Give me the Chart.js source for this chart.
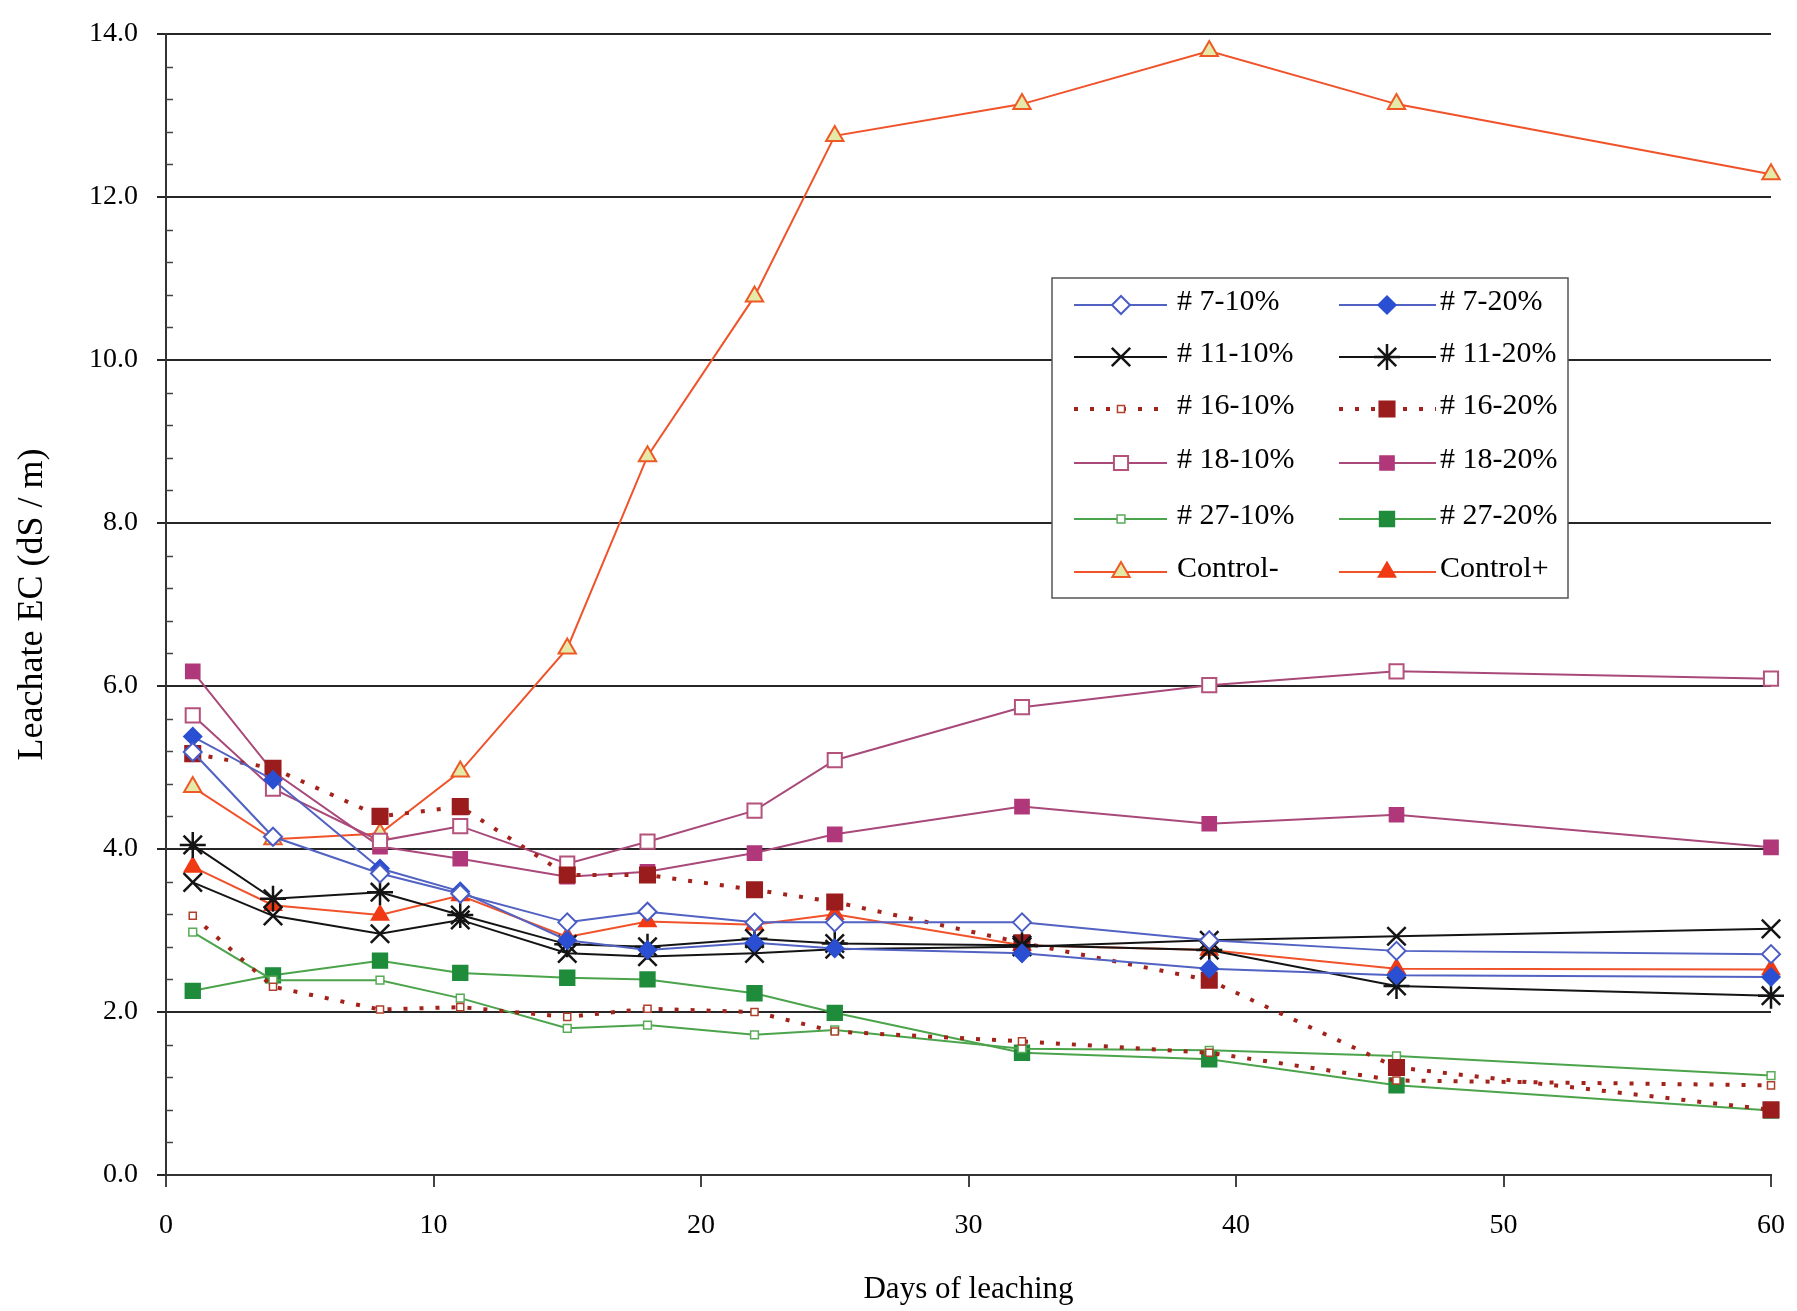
<!DOCTYPE html>
<html>
<head>
<meta charset="utf-8">
<script src="https://cdn.jsdelivr.net/npm/chart.js@4/dist/chart.umd.min.js"></script>
<style>
  html, body { margin: 0; padding: 0; background: #fff; }
</style>
</head>
<body>
<canvas id="ecChart" width="1797" height="1311"></canvas>
<script>
// days of leaching (x values)
const days = [ 1, 4, 8, 11, 15, 18, 22, 25, 32, 39, 46, 60 ];

// leachate EC, dS/m
const s7_10 = [ 5.19, 4.15, 3.70, 3.45, 3.10, 3.23, 3.10, 3.10, 3.10, 2.88, 2.75, 2.71 ];
const s7_20 = [ 5.38, 4.85, 3.76, 3.48, 2.88, 2.76, 2.85, 2.78, 2.72, 2.53, 2.45, 2.43 ];
const s11_10 = [ 3.59, 3.18, 2.96, 3.13, 2.72, 2.68, 2.72, 2.77, 2.80, 2.88, 2.93, 3.02 ];
const s11_20 = [ 4.05, 3.39, 3.47, 3.19, 2.83, 2.80, 2.90, 2.84, 2.82, 2.76, 2.32, 2.20 ];
const s16_10 = [ 3.18, 2.31, 2.03, 2.06, 1.94, 2.04, 2.00, 1.76, 1.64, 1.50, 1.16, 1.10 ];
const s16_20 = [ 5.17, 4.99, 4.40, 4.52, 3.68, 3.68, 3.50, 3.35, 2.85, 2.39, 1.32, 0.80 ];
const s18_10 = [ 5.64, 4.74, 4.10, 4.28, 3.82, 4.09, 4.47, 5.09, 5.74, 6.01, 6.18, 6.09 ];
const s18_20 = [ 6.18, 4.95, 4.03, 3.88, 3.66, 3.72, 3.95, 4.18, 4.52, 4.31, 4.42, 4.02 ];
const s27_10 = [ 2.98, 2.39, 2.39, 2.17, 1.80, 1.84, 1.72, 1.78, 1.55, 1.53, 1.46, 1.22 ];
const s27_20 = [ 2.26, 2.45, 2.63, 2.48, 2.42, 2.40, 2.23, 1.99, 1.50, 1.42, 1.10, 0.79 ];
const ctrlMinus = [ 4.76, 4.12, 4.19, 4.95, 6.46, 8.82, 10.78, 12.75, 13.14, 13.79, 13.14, 12.28 ];
const ctrlPlus = [ 3.78, 3.31, 3.19, 3.43, 2.92, 3.11, 3.07, 3.20, 2.82, 2.76, 2.53, 2.52 ];

const yTicks = [ 0, 2, 4, 6, 8, 10, 12, 14 ];
const xTicks = [ 0, 10, 20, 30, 40, 50, 60 ];

const SERIF = "'Liberation Serif', 'DejaVu Serif', serif";

function pts ( vals ) {
  return vals.map( ( v, i ) => ( { x: days[ i ], y: v } ) );
}

function series ( label, vals, line, mark ) {
  return {
    label,
    data: pts( vals ),
    borderColor: line.color,
    borderWidth: line.width || 2,
    borderDash: line.dash || [],
    borderCapStyle: "butt",
    tension: 0,
    fill: false,
    clip: false,
    pointStyle: mark.style,
    pointRadius: mark.r,
    pointHoverRadius: mark.r,
    pointBackgroundColor: mark.fill,
    pointBorderColor: mark.stroke,
    pointBorderWidth: mark.bw || 1.5,
  };
}

const BLUE = "#5262c2", BLACK = "#141414", DRED = "#a3231b", MAUVE = "#a8497a", GREEN = "#4ba44b", ORANGE = "#f0522a";
const DOTS = [ 4, 12 ];

const datasets = [
  series( "# 7-10%", s7_10, { color: BLUE }, { style: "rectRot", r: 9, fill: "#fff", stroke: "#4a5cc4", bw: 2 } ),
  series( "# 7-20%", s7_20, { color: BLUE }, { style: "rectRot", r: 9, fill: "#2b4fd2", stroke: "#2b4fd2" } ),
  series( "# 11-10%", s11_10, { color: BLACK }, { style: "crossRot", r: 13, fill: BLACK, stroke: BLACK, bw: 2.5 } ),
  series( "# 11-20%", s11_20, { color: BLACK }, { style: "star", r: 13, fill: BLACK, stroke: BLACK, bw: 2.5 } ),
  series( "# 16-10%", s16_10, { color: DRED, width: 4, dash: DOTS }, { style: "rect", r: 5, fill: "#fff", stroke: "#b0402c", bw: 1.5 } ),
  series( "# 16-20%", s16_20, { color: DRED, width: 4, dash: DOTS }, { style: "rect", r: 11, fill: "#9b1c1c", stroke: "#9b1c1c" } ),
  series( "# 18-10%", s18_10, { color: MAUVE }, { style: "rect", r: 10, fill: "#fff", stroke: "#b4527c", bw: 2 } ),
  series( "# 18-20%", s18_20, { color: MAUVE }, { style: "rect", r: 10, fill: "#b0387a", stroke: "#b0387a" } ),
  series( "# 27-10%", s27_10, { color: GREEN }, { style: "rect", r: 5.5, fill: "#fff", stroke: "#5aaa5a", bw: 1.5 } ),
  series( "# 27-20%", s27_20, { color: GREEN }, { style: "rect", r: 10.5, fill: "#1f8c3b", stroke: "#1f8c3b" } ),
  series( "Control-", ctrlMinus, { color: ORANGE }, { style: "triangle", r: 10, fill: "#e6eaa8", stroke: "#ee5a26", bw: 2 } ),
  series( "Control+", ctrlPlus, { color: ORANGE }, { style: "triangle", r: 10, fill: "#f03a14", stroke: "#f03a14" } ),
];

// legend drawn inside the plot, two columns
const legendRowY = [ 305, 357, 409, 463, 519, 572 ];
const legendCols = [
  { x0: 1074, x1: 1167, xm: 1121, xt: 1177 },
  { x0: 1339, x1: 1436, xm: 1387, xt: 1440 },
];

const boxLegend = {
  id: "boxLegend",
  afterDatasetsDraw ( chart ) {
    const ctx = chart.ctx;
    ctx.save();
    ctx.fillStyle = "#fff";
    ctx.fillRect( 1052, 278, 516, 320 );
    ctx.strokeStyle = "#555";
    ctx.lineWidth = 1.5;
    ctx.strokeRect( 1052, 278, 516, 320 );

    chart.data.datasets.forEach( ( ds, i ) => {
      const y = legendRowY[ Math.floor( i / 2 ) ];
      const c = legendCols[ i % 2 ];

      ctx.beginPath();
      ctx.setLineDash( ds.borderDash );
      ctx.lineCap = "butt";
      ctx.lineWidth = ds.borderWidth;
      ctx.strokeStyle = ds.borderColor;
      ctx.moveTo( c.x0, y );
      ctx.lineTo( c.x1, y );
      ctx.stroke();
      ctx.setLineDash( [] );

      ctx.fillStyle = ds.pointBackgroundColor;
      ctx.strokeStyle = ds.pointBorderColor;
      ctx.lineWidth = ds.pointBorderWidth;
      Chart.helpers.drawPoint( ctx, {
        pointStyle: ds.pointStyle,
        radius: ds.pointRadius,
        borderWidth: ds.pointBorderWidth,
        rotation: 0,
      }, c.xm, y );

      ctx.fillStyle = "#000";
      ctx.font = "30px " + SERIF;
      ctx.textBaseline = "middle";
      ctx.textAlign = "left";
      ctx.fillText( ds.label, c.xt, y - 3 );
    } );
    ctx.restore();
  }
};

// small inward ticks on the y axis every 0.4
const minorTicks = {
  id: "minorTicks",
  afterDraw ( chart ) {
    const ctx = chart.ctx;
    const ys = chart.scales.y;
    const x = chart.chartArea.left;
    ctx.save();
    ctx.strokeStyle = "#444";
    ctx.lineWidth = 1.5;
    for ( let i = 0;i <= 35;i++ ) {
      if ( i % 5 === 0 ) continue;
      const py = Math.round( ys.getPixelForValue( i * 0.4 ) ) + 0.5;
      ctx.beginPath();
      ctx.moveTo( x, py );
      ctx.lineTo( x + 7, py );
      ctx.stroke();
    }
    ctx.restore();
  }
};

const chart = new Chart( document.getElementById( "ecChart" ), {
  type: "line",
  data: { datasets },
  plugins: [ boxLegend, minorTicks ],
  options: {
    responsive: false,
    animation: false,
    events: [],
    layout: { padding: { top: 34, right: 26, left: 0, bottom: 0 } },
    plugins: {
      legend: { display: false },
      tooltip: { enabled: false },
    },
    scales: {
      x: {
        type: "linear",
        min: 0,
        max: 60,
        afterFit: ( s ) => { s.height = 136; s.paddingLeft = 0; s.paddingRight = 0; },
        afterBuildTicks: ( s ) => { s.ticks = xTicks.map( v => ( { value: v } ) ); },
        grid: { drawOnChartArea: false, drawTicks: true, tickLength: 12, color: "#444", lineWidth: 2 },
        border: { display: true, color: "#333", width: 2 },
        ticks: {
          autoSkip: false,
          maxRotation: 0,
          padding: 22,
          color: "#000",
          font: { family: SERIF, size: 28 },
        },
        title: {
          display: true,
          text: "Days of leaching",
          color: "#000",
          font: { family: SERIF, size: 31 },
          padding: { top: 0, bottom: 3 },
        },
      },
      y: {
        type: "linear",
        min: 0,
        max: 14,
        afterFit: ( s ) => { s.width = 166; s.paddingTop = 0; s.paddingBottom = 0; },
        afterBuildTicks: ( s ) => { s.ticks = yTicks.map( v => ( { value: v } ) ); },
        grid: { color: "#262626", lineWidth: 2, tickLength: 9 },
        border: { display: true, color: "#333", width: 2 },
        ticks: {
          padding: 19,
          color: "#000",
          font: { family: SERIF, size: 28 },
          callback: ( v ) => Number( v ).toFixed( 1 ),
        },
        title: {
          display: true,
          text: "Leachate EC (dS / m)",
          color: "#000",
          font: { family: SERIF, size: 36 },
          padding: { top: 11, bottom: 0 },
        },
      },
    },
  },
} );
</script>
</body>
</html>
